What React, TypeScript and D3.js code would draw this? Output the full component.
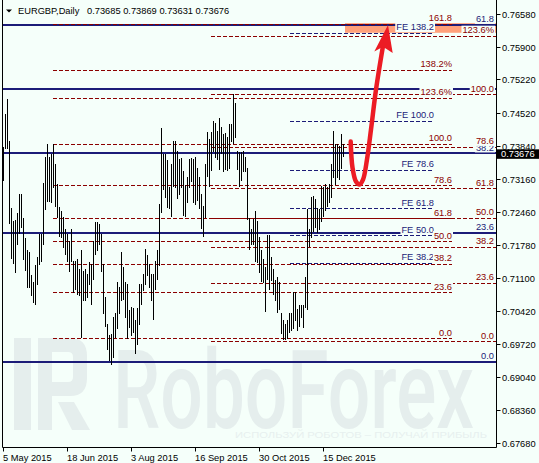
import React from 'react';
import * as d3 from 'd3';

const W = 539;
const H = 463;

// daily bars (high / low), 5 May 2015 onward
const barHighs = [
  0.7382, 0.7450, 0.7482, 0.7394, 0.7256, 0.7229, 0.7230, 0.7244, 0.7284, 0.7284,
  0.7234, 0.7192, 0.7168, 0.7163, 0.7115, 0.7101, 0.7136, 0.7153, 0.7201, 0.7201,
  0.7306, 0.7360, 0.7388, 0.7360, 0.7367, 0.7388, 0.7346, 0.7305, 0.7258, 0.7248,
  0.7236, 0.7212, 0.7201, 0.7187, 0.7212, 0.7146, 0.7146, 0.7149, 0.7129, 0.7167,
  0.7125, 0.7129, 0.7118, 0.7143, 0.7139, 0.7187, 0.7225, 0.7225, 0.7222, 0.7201,
  0.7139, 0.7070, 0.7014, 0.6991, 0.6994, 0.7029, 0.7037, 0.7101, 0.7092, 0.7163,
  0.7132, 0.7101, 0.7098, 0.7044, 0.7049, 0.7048, 0.7022, 0.7047, 0.7098, 0.7098,
  0.7118, 0.7170, 0.7158, 0.7139, 0.7118, 0.7117, 0.7146, 0.7167, 0.7263, 0.7422,
  0.7367, 0.7367, 0.7354, 0.7298, 0.7346, 0.7394, 0.7394, 0.7374, 0.7356, 0.7359,
  0.7331, 0.7303, 0.7320, 0.7356, 0.7359, 0.7356, 0.7360, 0.7339, 0.7319, 0.7285,
  0.7260, 0.7347, 0.7412, 0.7399, 0.7412, 0.7436, 0.7432, 0.7415, 0.7443, 0.7423,
  0.7408, 0.7410, 0.7403, 0.7430, 0.7429, 0.7492, 0.7474, 0.7374, 0.7372, 0.7372,
  0.7374, 0.7360, 0.7339, 0.7234, 0.7212, 0.7232, 0.7249, 0.7229, 0.7194, 0.7167,
  0.7149, 0.7132, 0.7198, 0.7198, 0.7153, 0.7129, 0.7105, 0.7112, 0.7101, 0.7036,
  0.7022, 0.7015, 0.7023, 0.7036, 0.7037, 0.7080, 0.7080, 0.7046, 0.7053, 0.7053,
  0.7053, 0.7111, 0.7253, 0.7212, 0.7277, 0.7281, 0.7274, 0.7256, 0.7253, 0.7301,
  0.7299, 0.7305, 0.7299, 0.7305, 0.7346, 0.7415, 0.7389, 0.7389, 0.7384, 0.7408,
  0.7387,
];
const barLows = [
  0.7313, 0.7379, 0.7379, 0.7223, 0.7152, 0.7141, 0.7123, 0.7181, 0.7203, 0.7215,
  0.7149, 0.7127, 0.7091, 0.7091, 0.7074, 0.7060, 0.7055, 0.7098, 0.7139, 0.7146,
  0.7181, 0.7253, 0.7270, 0.7270, 0.7267, 0.7298, 0.7260, 0.7236, 0.7196, 0.7194,
  0.7175, 0.7160, 0.7146, 0.7125, 0.7146, 0.7080, 0.7087, 0.7077, 0.7074, 0.6987,
  0.7063, 0.7063, 0.7070, 0.7098, 0.7056, 0.7108, 0.7160, 0.7167, 0.7181, 0.7125,
  0.7036, 0.7009, 0.6963, 0.6939, 0.6932, 0.6946, 0.6987, 0.7005, 0.7036, 0.7063,
  0.7067, 0.7029, 0.6986, 0.7008, 0.6991, 0.6998, 0.6953, 0.6973, 0.7015, 0.7056,
  0.7084, 0.7098, 0.7115, 0.7091, 0.7063, 0.7025, 0.7087, 0.7108, 0.7136, 0.7246,
  0.7294, 0.7277, 0.7258, 0.7256, 0.7239, 0.7301, 0.7298, 0.7276, 0.7284, 0.7299,
  0.7241, 0.7239, 0.7267, 0.7298, 0.7312, 0.7267, 0.7263, 0.7272, 0.7256, 0.7214,
  0.7196, 0.7236, 0.7322, 0.7301, 0.7334, 0.7374, 0.7360, 0.7356, 0.7336, 0.7370,
  0.7332, 0.7336, 0.7334, 0.7339, 0.7394, 0.7391, 0.7403, 0.7336, 0.7301, 0.7313,
  0.7332, 0.7332, 0.7232, 0.7170, 0.7181, 0.7181, 0.7145, 0.7142, 0.7122, 0.7103,
  0.7101, 0.7042, 0.7108, 0.7087, 0.7106, 0.7077, 0.7063, 0.7039, 0.7046, 0.6996,
  0.6984, 0.6984, 0.6986, 0.6998, 0.7001, 0.7005, 0.7022, 0.7002, 0.7011, 0.7029,
  0.7008, 0.7049, 0.7046, 0.7177, 0.7194, 0.7208, 0.7215, 0.7205, 0.7211, 0.7229,
  0.7239, 0.7250, 0.7260, 0.7267, 0.7277, 0.7319, 0.7305, 0.7319, 0.7315, 0.7339,
  0.7363,
];

const dateLabels = ['5 May 2015', '18 Jun 2015', '3 Aug 2015', '16 Sep 2015', '30 Oct 2015', '15 Dec 2015'];
const dateBarIndex = [0, 32, 64, 96, 128, 160];

const priceTicks = [0.7658, 0.759, 0.7522, 0.7452, 0.7384, 0.7316, 0.7246, 0.7178, 0.711, 0.7042, 0.6972, 0.6904, 0.6836, 0.6768];
const priceTickLabels = ['0.76580', '0.75900', '0.75220', '0.74520', '0.73840', '0.73160', '0.72460', '0.71780', '0.71100', '0.70420', '0.69720', '0.69040', '0.68360', '0.67680'];

const headerSymbol = 'EURGBP,Daily';
const headerOHLC = '0.73685 0.73869 0.73631 0.73676';
const lastPrice = 0.73676;
const lastPriceLabel = '0.73676';

// Fibonacci set A (red dashed, from bar 25)
const fibALevels = [0, 23.6, 38.2, 50, 61.8, 78.6, 100, 123.6, 138.2, 161.8];
const fibALabels = ['0.0', '23.6', '38.2', '50.0', '61.8', '78.6', '100.0', '123.6%', '138.2%', '161.8'];
const fibAPrices = [0.69846, 0.73883];
const fibAStartBar = 25;

// Fibonacci set B (red dashed, from bar 104)
const fibBLevels = [0, 23.6, 38.2, 50, 61.8, 78.6, 100, 123.6];
const fibBLabels = ['0.0', '23.6', '38.2', '50.0', '61.8', '78.6', '100.0', '123.6%'];
const fibBPrices = [0.69784, 0.74918];
const fibBStartBar = 104;

// Fibonacci set C (navy solid, whole width)
const fibCLevels = [0, 23.6, 38.2, 50, 61.8];
const fibCLabels = ['0.0', '23.6', '38.2', '', '61.8'];
const fibCPrices = [0.69362, 0.80676];

// Fibonacci expansion (navy dashed)
const feLevels = [38.2, 50, 61.8, 78.6, 100, 138.2];
const feLabels = ['FE 38.2', 'FE 50.0', 'FE 61.8', 'FE 78.6', 'FE 100.0', 'FE 138.2'];
const fePrices = [0.69598, 0.74365];
const feStartBar = 143.5;

// target zone
const zoneBars = [171, 246.5];
const zonePrices = [0.7619, 0.7639];

// forecast arrow (bar index, price)
const arrowPath: [number, number][] = [
  [173.85, 0.7393], [174.75, 0.7339], [176.5, 0.7310], [178.25, 0.7304], [180, 0.7314],
  [182, 0.7356], [184, 0.7418], [186.5, 0.7501], [190, 0.7592],
];
const arrowHead: [number, number][] = [[192.5, 0.7635], [185.65, 0.7580], [190, 0.7590], [194.85, 0.7577]];

const BG = '#f5fffa';
const NAVY = '#1c1c78';
const RED = '#8b0000';
const WM = '#e5eeed';
const FONT = '"Liberation Sans", Arial, sans-serif';
const FS = 9.3;

const charW: Record<string, number> = { '.': 0.278, '%': 0.889, ' ': 0.278, F: 0.611, E: 0.667 };
const textWidth = (s: string) => {
  let w = 0;
  for (const c of s) w += charW[c] ?? 0.556;
  return w * FS;
};

function Label({ text, right, lineY, color }: { text: string; right: number; lineY: number; color: string }) {
  if (!text) return null;
  const w = textWidth(text);
  const base = lineY - 2.5;
  return (
    <g>
      <rect x={right - w - 1} y={base - 7.5} width={w + 2} height={9} fill={BG} />
      <text x={right} y={base} textAnchor="end" fill={color} fontSize={FS} fontFamily={FONT}>{text}</text>
    </g>
  );
}

export default function App() {
  const x = d3.scaleLinear().domain([0, 170]).range([3, 343]);
  const y = d3.scaleLinear().domain([0.7658, 0.6768]).range([14, 14 + 0.089 * 4815]);

  const left = 2.5;
  const right = 496.5;
  const bottom = 447.5;

  const lvlPrice = (p: number[], l: number) => p[0] + (l / 100) * (p[1] - p[0]);
  const crisp1 = (v: number) => Math.round(v) + 0.5;
  const crisp2 = (v: number) => Math.round(v);

  const arrowLine = d3.line<[number, number]>()
    .x((d) => x(d[0]))
    .y((d) => y(d[1]))
    .curve(d3.curveCatmullRom.alpha(0.5));

  const headPts = arrowHead.map((d) => `${x(d[0])},${y(d[1])}`).join(' ');

  return (
    <svg width={W} height={H} style={{ position: 'absolute', left: 0, top: 0, display: 'block' }}>
      <rect x={0} y={0} width={W} height={H} fill={BG} />

      {/* watermark */}
      <g fill={WM}>
        <rect x={14} y={338} width={17} height={92} />
        <path fillRule="evenodd" d="M38 338 H70 Q87 338 87 356 V378 Q87 396 70 396 H38 Z M52 352 V382 H68 Q73 382 73 377 V357 Q73 352 68 352 Z" />
        <path d="M38 396 H52 V430 H38 Z" />
        <path d="M58 402 H74 L90 430 H72 Z" />
        <text x={113} y={428} fontSize={110} fontFamily="Roboto, sans-serif" fontWeight={500} textLength={361} lengthAdjust="spacingAndGlyphs">RoboForex</text>
      </g>
      <text x={235} y={438} fontSize={9} fill="#e7f0ef" fontFamily={FONT} textLength={252} lengthAdjust="spacingAndGlyphs">ИСПОЛЬЗУЙ РОБОТОВ – ПОЛУЧАЙ ПРИБЫЛЬ</text>

      {/* target zone */}
      <rect x={x(zoneBars[0])} y={y(zonePrices[1])} width={Math.min(x(zoneBars[1]), right) - x(zoneBars[0])} height={y(zonePrices[0]) - y(zonePrices[1])} fill="#ffa07a" />

      {/* navy solid fib */}
      {fibCLevels.map((l, i) => {
        const yy = crisp2(y(lvlPrice(fibCPrices, l)));
        return <line key={'c' + i} x1={left} x2={right} y1={yy} y2={yy} stroke={NAVY} strokeWidth={2} />;
      })}

      {/* red dashed fib A */}
      {fibALevels.map((l, i) => {
        const yy = crisp1(y(lvlPrice(fibAPrices, l)));
        return <line key={'a' + i} x1={x(fibAStartBar)} x2={452} y1={yy} y2={yy} stroke={RED} strokeDasharray="4,2" />;
      })}
      {/* red dashed fib B */}
      {fibBLevels.map((l, i) => {
        const yy = crisp1(y(lvlPrice(fibBPrices, l)));
        return <line key={'b' + i} x1={x(fibBStartBar)} x2={right} y1={yy} y2={yy} stroke={RED} strokeDasharray="4,2" />;
      })}
      {/* navy dashed expansion */}
      {feLevels.map((l, i) => {
        const yy = crisp1(y(lvlPrice(fePrices, l)));
        return <line key={'e' + i} x1={x(feStartBar)} x2={433} y1={yy} y2={yy} stroke={NAVY} strokeDasharray="4,2" />;
      })}

      {/* bars */}
      {barHighs.map((h, i) => (
        <line key={'bar' + i} x1={crisp1(x(i))} x2={crisp1(x(i))} y1={Math.round(y(h))} y2={Math.round(y(barLows[i])) + 1} stroke="#000" strokeWidth={1} />
      ))}

      {/* labels */}
      {fibCLevels.map((l, i) => (
        <Label key={'lc' + i} text={fibCLabels[i]} right={494} lineY={y(lvlPrice(fibCPrices, l))} color={NAVY} />
      ))}
      {fibBLevels.map((l, i) => (
        <Label key={'lb' + i} text={fibBLabels[i]} right={494} lineY={y(lvlPrice(fibBPrices, l))} color={RED} />
      ))}
      {feLevels.map((l, i) => (
        <Label key={'le' + i} text={feLabels[i]} right={434} lineY={y(lvlPrice(fePrices, l))} color={NAVY} />
      ))}
      {fibALevels.map((l, i) => (
        <Label key={'la' + i} text={fibALabels[i]} right={452} lineY={y(lvlPrice(fibAPrices, l))} color={RED} />
      ))}

      {/* arrow */}
      <path d={arrowLine(arrowPath) || ''} fill="none" stroke="#ec1c24" strokeWidth={4.5} strokeLinecap="round" />
      <polygon points={headPts} fill="#ec1c24" />

      {/* frame */}
      <line x1={left} x2={left} y1={0} y2={bottom} stroke="#000" />
      <line x1={left} x2={right} y1={bottom} y2={bottom} stroke="#000" />
      <line x1={right} x2={right} y1={0} y2={bottom} stroke="#000" />

      {/* right axis */}
      {priceTicks.map((p, i) => {
        const yy = crisp1(y(p));
        return (
          <g key={'pt' + i}>
            <line x1={right} x2={right + 4} y1={yy} y2={yy} stroke="#000" />
            <text x={502} y={yy + 3.3} fontSize={FS} fontFamily={FONT} fill="#000">{priceTickLabels[i]}</text>
          </g>
        );
      })}

      {/* last price */}
      <rect x={497} y={y(lastPrice) - 4.5} width={W - 497} height={9.5} fill="#000" />
      <text x={501} y={y(lastPrice) + 3.5} fontSize={FS} fontFamily={FONT} fill="#fff">{lastPriceLabel}</text>

      {/* bottom axis */}
      {dateBarIndex.map((bi, i) => {
        const xx = crisp1(x(bi));
        return (
          <g key={'dt' + i}>
            <line x1={xx} x2={xx} y1={bottom} y2={bottom + 4} stroke="#000" />
            <text x={xx - 0.5} y={461} fontSize={FS} fontFamily={FONT} fill="#000">{dateLabels[i]}</text>
          </g>
        );
      })}

      {/* header */}
      <path d="M6 9.5 H12 L9 12.5 Z" fill="#000" />
      <text x={18} y={14} fontSize={FS} fontFamily={FONT} fill="#000">{headerSymbol}</text>
      <text x={87} y={14} fontSize={FS} fontFamily={FONT} fill="#000">{headerOHLC}</text>
    </svg>
  );
}
